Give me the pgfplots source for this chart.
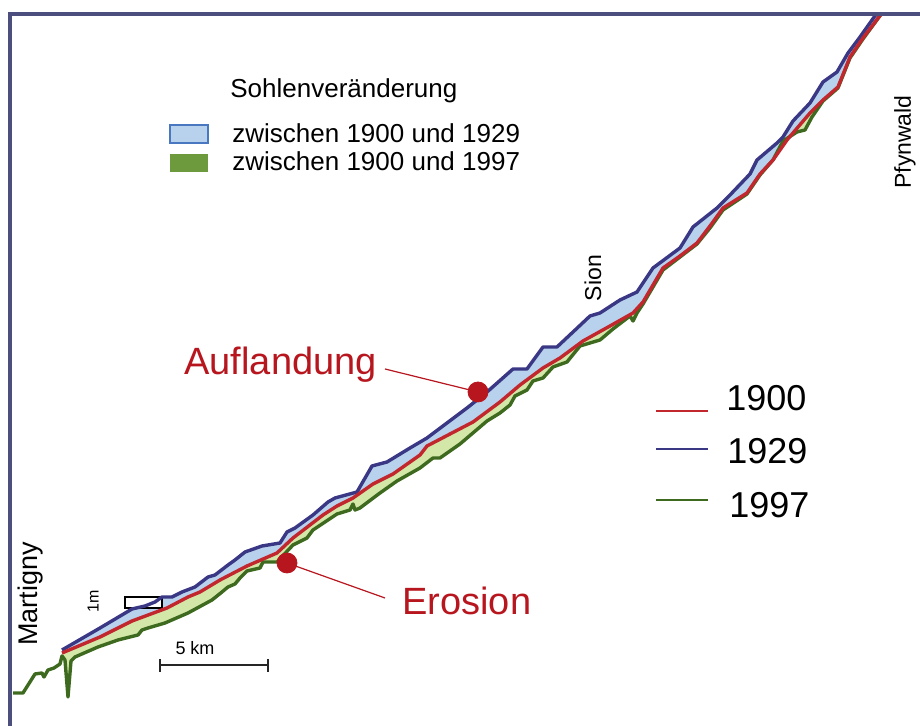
\documentclass[border=0pt]{standalone}
\usepackage{fontspec}
\setmainfont{Liberation Sans}
\usepackage{pgfplots}
\pgfplotsset{compat=1.18}
\usepgfplotslibrary{fillbetween}
\definecolor{cred}{HTML}{C1272D}
\definecolor{cblue}{HTML}{3A3785}
\definecolor{cgreen}{HTML}{3D6A1F}
\definecolor{fblue}{HTML}{B8D2EE}
\definecolor{fgreen}{HTML}{D3E7A8}
\definecolor{txtred}{HTML}{B8161E}
\definecolor{frame}{HTML}{4C4F7E}
\definecolor{swblue}{HTML}{4A78C0}
\definecolor{swgreen}{HTML}{6C9A3C}
\begin{document}
\begin{tikzpicture}
\begin{axis}[
  scale only axis, width=460pt, height=363pt,
  xmin=0, xmax=920, ymin=0, ymax=726, y dir=reverse,
  hide axis, clip=false,
]
% 1900
\addplot[draw=none, name path=r] coordinates {
(62,653) (100,637) (132,621) (167,608) (188,597) (200,592) (220,580) (247,566) (277,553) (293,538) (323,515) (337,506) (353,498) (373,484) (393,474) (420,455) (427,446) (450,434) (473,422) (500,402) (520,385) (543,368) (560,358) (583,341) (610,326) (633,313) (643,302) (653,285) (663,268) (680,256) (697,243) (710,226) (723,208) (747,193) (760,174) (773,160) (787,140) (810,113) (823,100) (838,87) (850,57) (863,38) (882,13)};
% 1929
\addplot[draw=none, name path=b] coordinates {
(62,650) (100,628) (132,609) (145,606) (155,602) (162,597) (172,597) (182,592) (195,587) (208,577) (215,575) (228,565) (235,560) (245,552) (262,546) (280,543) (287,532) (295,528) (313,515) (328,502) (335,498) (357,492) (372,466) (387,462) (410,448) (427,438) (467,408) (487,392) (513,369) (527,369) (543,347) (557,347) (573,332) (590,316) (600,313) (620,300) (637,292) (653,268) (680,248) (693,227) (717,208) (730,195) (750,174) (757,160) (777,143) (783,137) (793,121) (810,103) (823,82) (837,72) (848,53) (860,37) (877,13)};
% 1997
\addplot[draw=none, name path=g] coordinates {
(13,693) (23,693) (35,674) (42,673) (44,677) (48,670) (54,668) (60,664) (62,656) (65,660) (68,697) (71,661) (75,657) (98,647) (118,640) (138,635) (142,630) (148,628) (165,623) (188,613) (212,600) (222,592) (228,587) (235,584) (240,578) (247,571) (260,568) (263,562) (277,562) (293,545) (307,538) (313,530) (337,514) (350,510) (353,504) (355,510) (360,508) (380,493) (397,481) (420,468) (433,458) (440,458) (460,444) (487,421) (500,413) (510,405) (515,396) (527,390) (533,381) (543,378) (553,367) (567,362) (580,346) (600,340) (613,329) (630,316) (633,321) (637,313) (643,304) (653,287) (663,270) (680,257) (697,244) (710,228) (723,210) (747,194) (760,175) (773,160) (783,141) (797,132) (805,130) (812,117) (823,101) (838,88) (850,58) (863,39) (882,13)};
% fills
\addplot[fill=fblue, draw=none] fill between[of=b and r];
\addplot[fill=fgreen, draw=none] fill between[of=r and g, soft clip={domain=62:882}];
% 1m box
\draw[black, line width=0.7pt, fill=white] (axis cs:125,597) rectangle (axis cs:162,608);
% lines
\addplot[cgreen, line width=1.7pt, line join=round] coordinates {
(13,693) (23,693) (35,674) (42,673) (44,677) (48,670) (54,668) (60,664) (62,656) (65,660) (68,697) (71,661) (75,657) (98,647) (118,640) (138,635) (142,630) (148,628) (165,623) (188,613) (212,600) (222,592) (228,587) (235,584) (240,578) (247,571) (260,568) (263,562) (277,562) (293,545) (307,538) (313,530) (337,514) (350,510) (353,504) (355,510) (360,508) (380,493) (397,481) (420,468) (433,458) (440,458) (460,444) (487,421) (500,413) (510,405) (515,396) (527,390) (533,381) (543,378) (553,367) (567,362) (580,346) (600,340) (613,329) (630,316) (633,321) (637,313) (643,304) (653,287) (663,270) (680,257) (697,244) (710,228) (723,210) (747,194) (760,175) (773,160) (783,141) (797,132) (805,130) (812,117) (823,101) (838,88) (850,58) (863,39) (882,13)};
\addplot[cblue, line width=1.7pt, line join=round] coordinates {
(62,650) (100,628) (132,609) (145,606) (155,602) (162,597) (172,597) (182,592) (195,587) (208,577) (215,575) (228,565) (235,560) (245,552) (262,546) (280,543) (287,532) (295,528) (313,515) (328,502) (335,498) (357,492) (372,466) (387,462) (410,448) (427,438) (467,408) (487,392) (513,369) (527,369) (543,347) (557,347) (573,332) (590,316) (600,313) (620,300) (637,292) (653,268) (680,248) (693,227) (717,208) (730,195) (750,174) (757,160) (777,143) (783,137) (793,121) (810,103) (823,82) (837,72) (848,53) (860,37) (877,13)};
\addplot[cred, line width=1.7pt, line join=round] coordinates {
(62,653) (100,637) (132,621) (167,608) (188,597) (200,592) (220,580) (247,566) (277,553) (293,538) (323,515) (337,506) (353,498) (373,484) (393,474) (420,455) (427,446) (450,434) (473,422) (500,402) (520,385) (543,368) (560,358) (583,341) (610,326) (633,313) (643,302) (653,285) (663,268) (680,256) (697,243) (710,226) (723,208) (747,193) (760,174) (773,160) (787,140) (810,113) (823,100) (838,87) (850,57) (863,38) (882,13)};
% frame
\draw[frame, line width=1.6pt] (axis cs:10,726) -- (axis cs:10,14) -- (axis cs:920,14);
% annotation leaders and dots
\draw[txtred, line width=0.6pt] (axis cs:385,369) -- (axis cs:478,392);
\draw[txtred, line width=0.6pt] (axis cs:287,563) -- (axis cs:385,598);
\addplot[only marks, mark=*, mark size=5pt, color=txtred] coordinates {(478,392) (287,563)};
\node[anchor=west, inner sep=0, text=txtred, font=\fontsize{19pt}{22pt}\selectfont] at (axis cs:184,365) {Auflandung};
\node[anchor=west, inner sep=0, text=txtred, font=\fontsize{19pt}{22pt}\selectfont] at (axis cs:402,601) {Erosion};
% top-left legend
\node[anchor=west, inner sep=0, font=\fontsize{13pt}{15pt}\selectfont] at (axis cs:230,91) {Sohlenveränderung};
\node[anchor=west, inner sep=0, font=\fontsize{13pt}{15pt}\selectfont] at (axis cs:232,133) {zwischen 1900 und 1929};
\node[anchor=west, inner sep=0, font=\fontsize{13pt}{15pt}\selectfont] at (axis cs:232,161) {zwischen 1900 und 1997};
\draw[draw=swblue, line width=0.8pt, fill=fblue] (axis cs:170,125) rectangle (axis cs:208,143);
\fill[swgreen] (axis cs:170,154) rectangle (axis cs:208,172);
% right legend
\draw[cred, line width=1.4pt] (axis cs:656,411) -- (axis cs:708,411);
\draw[cblue, line width=1.4pt] (axis cs:656,449) -- (axis cs:708,449);
\draw[cgreen, line width=1.4pt] (axis cs:656,500) -- (axis cs:708,500);
\node[anchor=west, inner sep=0, font=\fontsize{18pt}{21pt}\selectfont] at (axis cs:726,398) {1900};
\node[anchor=west, inner sep=0, font=\fontsize{18pt}{21pt}\selectfont] at (axis cs:727,451) {1929};
\node[anchor=west, inner sep=0, font=\fontsize{18pt}{21pt}\selectfont] at (axis cs:729,505) {1997};
% place names
\node[rotate=90, inner sep=0, font=\fontsize{13.5pt}{15pt}\selectfont] at (axis cs:31,594) {Martigny};
\node[rotate=90, inner sep=0, font=\fontsize{11.5pt}{14pt}\selectfont] at (axis cs:593,278) {Sion};
\node[rotate=90, inner sep=0, font=\fontsize{11.5pt}{14pt}\selectfont] at (axis cs:905,142) {Pfynwald};
% scale
\node[rotate=90, inner sep=0, font=\fontsize{8pt}{9pt}\selectfont] at (axis cs:93,601) {1m};
\node[inner sep=0, font=\fontsize{9pt}{11pt}\selectfont] at (axis cs:195,648) {5 km};
\draw[black!85, line width=1.2pt] (axis cs:160,665) -- (axis cs:268,665);
\draw[black!85, line width=1.2pt] (axis cs:160,659) -- (axis cs:160,672);
\draw[black!85, line width=1.2pt] (axis cs:268,659) -- (axis cs:268,672);
\end{axis}
\pgfresetboundingbox
\path[use as bounding box] (0,0) rectangle (460pt,363pt);
\end{tikzpicture}
\end{document}
